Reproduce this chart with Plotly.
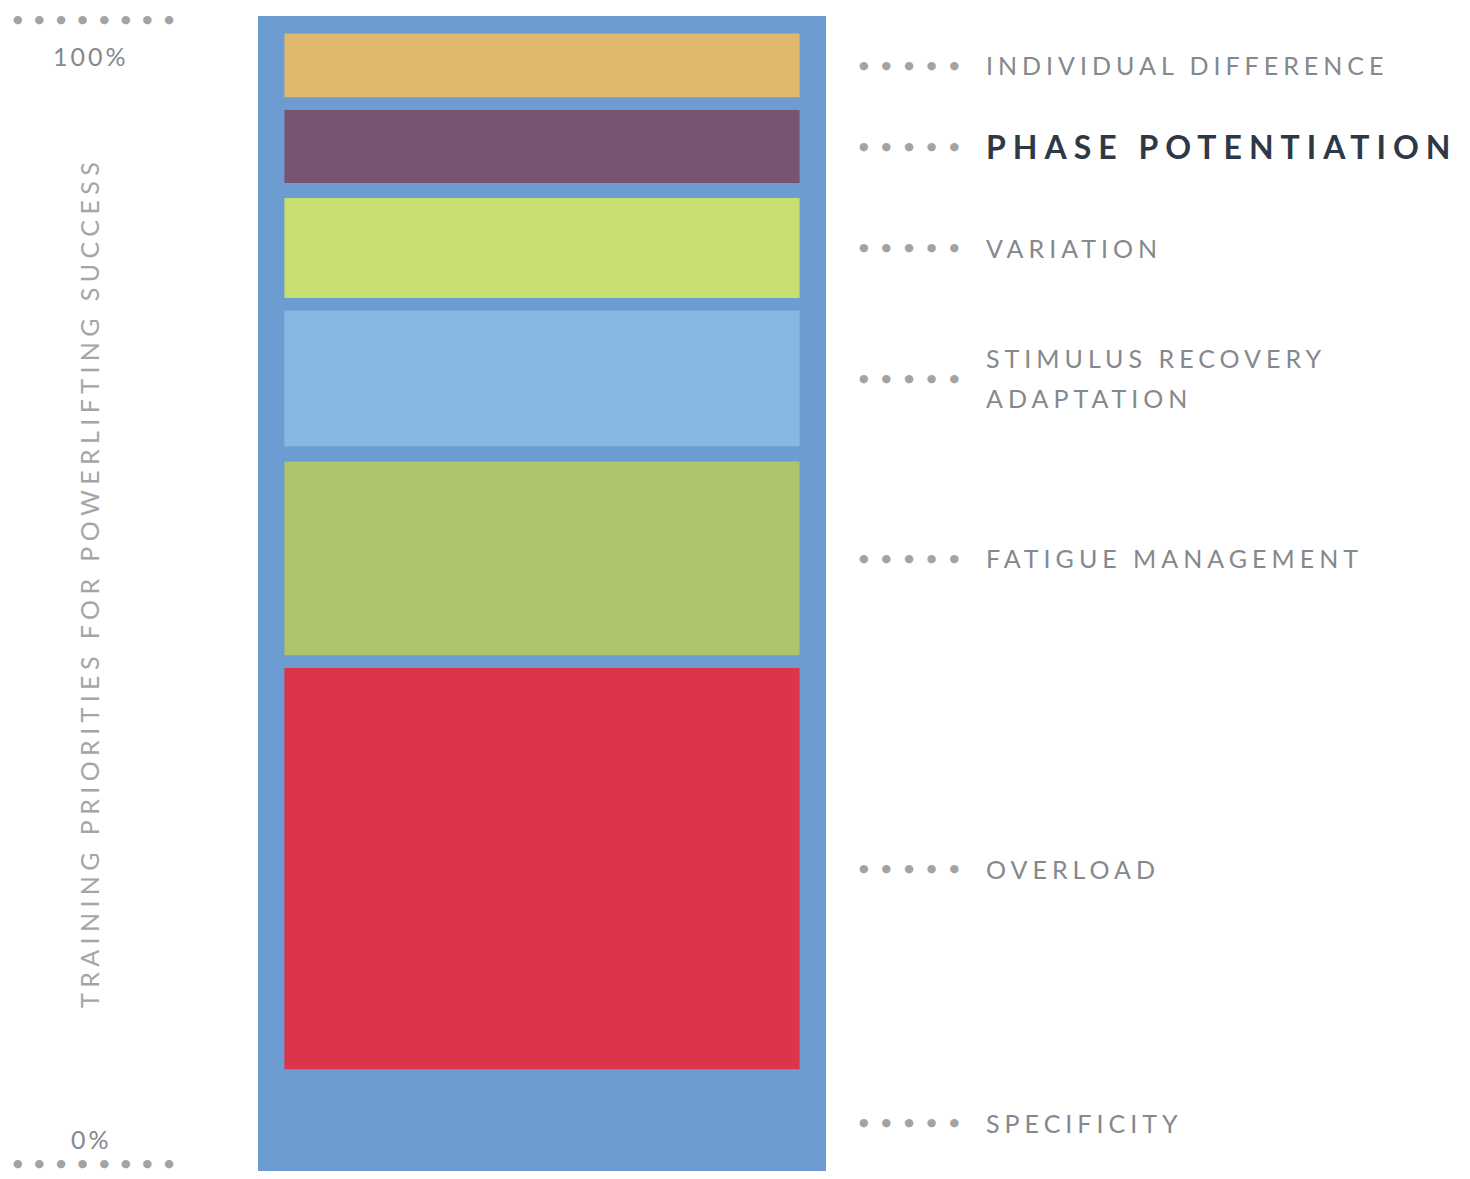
import plotly.graph_objects as go

# training priorities, bottom to top (values on a 0-100 scale)
priorities = ["OVERLOAD", "FATIGUE MANAGEMENT", "STIMULUS RECOVERY\nADAPTATION",
              "VARIATION", "PHASE POTENTIATION", "INDIVIDUAL DIFFERENCE"]
bases = [9.2, 44.9, 62.9, 75.7, 85.6, 93.0]
tops = [43.8, 61.6, 74.6, 84.3, 91.9, 98.5]
colors = ["#DC354A", "#AEC46A", "#87B8E3", "#C8DE70", "#785473", "#E0B96D"]

base_label = "SPECIFICITY"
base_range = [0, 100]
base_color = "#6D9CD3"

axis_title = "TRAINING PRIORITIES FOR POWERLIFTING SUCCESS"
tick_top = "100%"
tick_bottom = "0%"
highlight = "PHASE POTENTIATION"

# page body has an 8px margin, so the figure is a bit smaller than the window
OFF = 8
W, H = 1470 - 2 * OFF, 1179 - 2 * OFF
GRAY = "#85888C"


def px(x):
    return (x - OFF) / W


def py(y):
    return 1 - (y - OFF) / H


def spaced(s, ls):
    return f'<span style="letter-spacing:{ls}px">{s}</span>'


fig = go.Figure()

# specificity is the foundation everything sits on
fig.add_trace(go.Bar(
    x=[0], y=[base_range[1] - base_range[0]], base=[base_range[0]],
    width=1, marker=dict(color=base_color, line=dict(width=0)),
    hoverinfo="skip", showlegend=False,
))

for name, b, t, c in zip(priorities, bases, tops, colors):
    fig.add_trace(go.Bar(
        x=[0], y=[t - b], base=[b], width=0.907,
        marker=dict(color=c, line=dict(width=0)),
        name=name.replace("\n", " "), hoverinfo="name", showlegend=False,
    ))

annotations = []
dots5 = spaced("●●●●●", 13)

label_list = [(base_label, (base_range[0] + bases[0]) / 2)] + \
    [(n, (b + t) / 2) for n, b, t in zip(priorities, bases, tops)]

for name, ymid in label_list:
    annotations.append(dict(
        x=px(857), xref="paper", y=ymid, yref="y", xanchor="left", yanchor="middle",
        text=dots5, showarrow=False, font=dict(family="DejaVu Sans", size=11, color="#A3A3A3"),
    ))
    lines = name.split("\n")
    n = len(lines)
    for i, line in enumerate(lines):
        bold = name == highlight
        annotations.append(dict(
            x=px(984), xref="paper", y=ymid, yref="y", xanchor="left", yanchor="middle",
            yshift=(n - 1) * 20 - i * 40,
            text=spaced(f"<b>{line}</b>" if bold else line, 7 if bold else 5),
            showarrow=False,
            font=dict(family="Lato", size=32 if bold else 25,
                      color="#2E3947" if bold else GRAY),
        ))

# left scale
dots8 = spaced("●●●●●●●●", 12)
for yd, txt, yt in [(19, tick_top, 56), (1163, tick_bottom, 1139)]:
    annotations.append(dict(
        x=px(11), xref="paper", y=py(yd), yref="paper", xanchor="left", yanchor="middle",
        text=dots8, showarrow=False, font=dict(family="DejaVu Sans", size=11, color="#A3A3A3"),
    ))
    annotations.append(dict(
        x=px(91), xref="paper", y=py(yt), yref="paper", xanchor="center", yanchor="middle",
        text=spaced(txt, 3), showarrow=False, font=dict(family="Lato", size=25, color=GRAY),
    ))

annotations.append(dict(
    x=px(89), xref="paper", y=py(583), yref="paper", xanchor="center", yanchor="middle",
    text=spaced(axis_title, 5.4), textangle=-90, showarrow=False,
    font=dict(family="Lato", size=25, color="#A3A6A9"),
))

# bar column runs from y=16 (100) to y=1176 (0); the figure ends at y=1171
unit = (1176 - 16) / 100
y_bottom = OFF + H
y_min = (1176 - y_bottom) / unit

fig.update_layout(
    width=W, height=H,
    margin=dict(l=0, r=0, t=0, b=0),
    paper_bgcolor="white", plot_bgcolor="white",
    barmode="overlay",
    xaxis=dict(domain=[px(258), px(826)], range=[-0.5, 0.5], visible=False, fixedrange=True),
    yaxis=dict(domain=[0, py(16)], range=[y_min, 100], visible=False, fixedrange=True),
    annotations=annotations,
)

fig.write_html("out.html")
